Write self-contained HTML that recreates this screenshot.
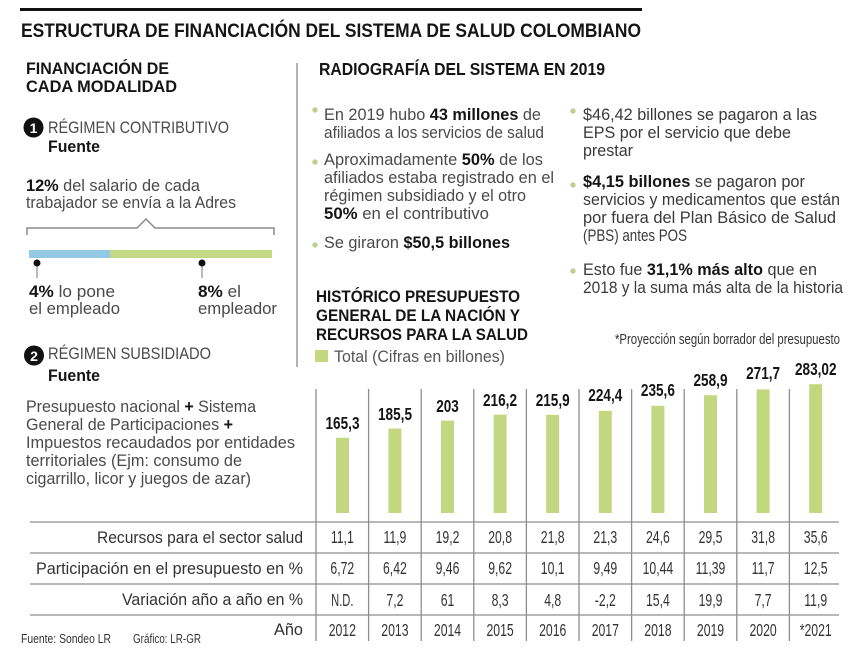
<!DOCTYPE html>
<html>
<head>
<meta charset="utf-8">
<style>
  html,body{margin:0;padding:0;background:#fff;}
  svg{display:block;}
  text{font-family:"Liberation Sans", sans-serif;}
  .b{font-weight:bold;fill:#151515;}
  .t{fill:#4a4a4a;}
  .r{fill:#3a3a3a;}
</style>
</head>
<body>
<svg width="863" height="657" viewBox="0 0 863 657" xmlns="http://www.w3.org/2000/svg">
  <rect x="0" y="0" width="863" height="657" fill="#ffffff"/>

  <!-- top rule + title -->
  <rect x="20" y="8" width="622" height="3" fill="#111"/>
  <text x="21" y="37" font-size="19.5" class="b" textLength="620" lengthAdjust="spacingAndGlyphs">ESTRUCTURA DE FINANCIACIÓN DEL SISTEMA DE SALUD COLOMBIANO</text>

  <!-- left column headers -->
  <text x="26" y="74" font-size="17" class="b" textLength="143" lengthAdjust="spacingAndGlyphs">FINANCIACIÓN DE</text>
  <text x="26" y="92" font-size="17" class="b" textLength="151" lengthAdjust="spacingAndGlyphs">CADA MODALIDAD</text>

  <!-- separator -->
  <line x1="297" y1="63" x2="297" y2="367" stroke="#9a9a9a" stroke-width="1.5"/>

  <!-- Régimen contributivo -->
  <circle cx="33.5" cy="127.5" r="10" fill="#111"/>
  <text x="33.5" y="133" font-size="14" font-weight="bold" fill="#fff" text-anchor="middle">1</text>
  <text x="48" y="133" font-size="17" class="t" textLength="181" lengthAdjust="spacingAndGlyphs">RÉGIMEN CONTRIBUTIVO</text>
  <text x="48" y="152" font-size="17" class="b" textLength="52" lengthAdjust="spacingAndGlyphs">Fuente</text>

  <text x="26" y="191" font-size="17" class="t" textLength="174" lengthAdjust="spacingAndGlyphs"><tspan class="b">12%</tspan> del salario de cada</text>
  <text x="26" y="208" font-size="17" class="t" textLength="210" lengthAdjust="spacingAndGlyphs">trabajador se envía a la Adres</text>

  <polyline points="27,235 27,228 137,228 146,219 155,228 274,228 274,235" fill="none" stroke="#8a8a8a" stroke-width="1.5"/>

  <rect x="29" y="250" width="81" height="8" fill="#93c9e5"/>
  <rect x="110" y="250" width="162" height="8" fill="#c5d883"/>

  <line x1="37" y1="263" x2="37" y2="278" stroke="#777" stroke-width="1"/>
  <circle cx="37" cy="263" r="3.5" fill="#111"/>
  <line x1="202" y1="263" x2="202" y2="278" stroke="#777" stroke-width="1"/>
  <circle cx="202" cy="263" r="3.5" fill="#111"/>

  <text x="29" y="297" font-size="17" class="t" textLength="86" lengthAdjust="spacingAndGlyphs"><tspan class="b">4%</tspan> lo pone</text>
  <text x="29" y="314" font-size="17" class="t" textLength="91" lengthAdjust="spacingAndGlyphs">el empleado</text>
  <text x="198" y="297" font-size="17" class="t" textLength="43" lengthAdjust="spacingAndGlyphs"><tspan class="b">8%</tspan> el</text>
  <text x="198" y="314" font-size="17" class="t" textLength="79" lengthAdjust="spacingAndGlyphs">empleador</text>

  <!-- Régimen subsidiado -->
  <circle cx="34" cy="355.5" r="10" fill="#111"/>
  <text x="34" y="361" font-size="14" font-weight="bold" fill="#fff" text-anchor="middle">2</text>
  <text x="48" y="359" font-size="17" class="t" textLength="163" lengthAdjust="spacingAndGlyphs">RÉGIMEN SUBSIDIADO</text>
  <text x="48" y="381" font-size="17" class="b" textLength="52" lengthAdjust="spacingAndGlyphs">Fuente</text>

  <text x="26" y="412" font-size="17" class="t" textLength="230" lengthAdjust="spacingAndGlyphs">Presupuesto nacional <tspan class="b">+</tspan> Sistema</text>
  <text x="26" y="430" font-size="17" class="t" textLength="207" lengthAdjust="spacingAndGlyphs">General de Participaciones <tspan class="b">+</tspan></text>
  <text x="26" y="448" font-size="17" class="t" textLength="269" lengthAdjust="spacingAndGlyphs">Impuestos recaudados por entidades</text>
  <text x="26" y="466" font-size="17" class="t" textLength="216" lengthAdjust="spacingAndGlyphs">territoriales (Ejm: consumo de</text>
  <text x="26" y="484" font-size="17" class="t" textLength="225" lengthAdjust="spacingAndGlyphs">cigarrillo, licor y juegos de azar)</text>

  <!-- Radiografía -->
  <text x="319" y="75" font-size="17.5" class="b" textLength="286" lengthAdjust="spacingAndGlyphs">RADIOGRAFÍA DEL SISTEMA EN 2019</text>

  <g fill="#b9d38e">
    <circle cx="315" cy="110" r="2.7"/>
    <circle cx="315" cy="162" r="2.7"/>
    <circle cx="315" cy="245" r="2.7"/>
    <circle cx="573" cy="111" r="2.7"/>
    <circle cx="573" cy="185" r="2.7"/>
    <circle cx="573" cy="271" r="2.7"/>
  </g>

  <text x="324" y="120" font-size="17" class="t" textLength="217" lengthAdjust="spacingAndGlyphs">En 2019 hubo <tspan class="b">43 millones</tspan> de</text>
  <text x="324" y="138" font-size="17" class="t" textLength="220" lengthAdjust="spacingAndGlyphs">afiliados a los servicios de salud</text>
  <text x="324" y="165" font-size="17" class="t" textLength="219" lengthAdjust="spacingAndGlyphs">Aproximadamente <tspan class="b">50%</tspan> de los</text>
  <text x="324" y="183" font-size="17" class="t" textLength="230" lengthAdjust="spacingAndGlyphs">afiliados estaba registrado en el</text>
  <text x="324" y="201" font-size="17" class="t" textLength="202" lengthAdjust="spacingAndGlyphs">régimen subsidiado y el otro</text>
  <text x="324" y="219" font-size="17" class="t" textLength="165" lengthAdjust="spacingAndGlyphs"><tspan class="b">50%</tspan> en el contributivo</text>
  <text x="324" y="248" font-size="17" class="t" textLength="186" lengthAdjust="spacingAndGlyphs">Se giraron <tspan class="b">$50,5 billones</tspan></text>

  <text x="583" y="120" font-size="17" class="r" textLength="234" lengthAdjust="spacingAndGlyphs">$46,42 billones se pagaron a las</text>
  <text x="583" y="138" font-size="17" class="r" textLength="208" lengthAdjust="spacingAndGlyphs">EPS por el servicio que debe</text>
  <text x="583" y="156" font-size="17" class="r" textLength="50" lengthAdjust="spacingAndGlyphs">prestar</text>
  <text x="583" y="187" font-size="17" class="r" textLength="222" lengthAdjust="spacingAndGlyphs"><tspan class="b">$4,15 billones</tspan> se pagaron por</text>
  <text x="583" y="205" font-size="17" class="r" textLength="257" lengthAdjust="spacingAndGlyphs">servicios y medicamentos que están</text>
  <text x="583" y="223" font-size="17" class="r" textLength="253" lengthAdjust="spacingAndGlyphs">por fuera del Plan Básico de Salud</text>
  <text x="583" y="241" font-size="17" class="r" textLength="104" lengthAdjust="spacingAndGlyphs">(PBS) antes POS</text>
  <text x="583" y="275" font-size="17" class="r" textLength="234" lengthAdjust="spacingAndGlyphs">Esto fue <tspan class="b">31,1% más alto</tspan> que en</text>
  <text x="583" y="293" font-size="17" class="r" textLength="260" lengthAdjust="spacingAndGlyphs">2018 y la suma más alta de la historia</text>

  <!-- Histórico title -->
  <text x="316" y="302" font-size="17" class="b" textLength="204" lengthAdjust="spacingAndGlyphs">HISTÓRICO PRESUPUESTO</text>
  <text x="316" y="321" font-size="17" class="b" textLength="204" lengthAdjust="spacingAndGlyphs">GENERAL DE LA NACIÓN Y</text>
  <text x="316" y="340" font-size="17" class="b" textLength="212" lengthAdjust="spacingAndGlyphs">RECURSOS PARA LA SALUD</text>
  <rect x="315" y="350" width="13" height="12" fill="#c2d77f"/>
  <text x="334" y="362" font-size="16.5" fill="#555" textLength="171" lengthAdjust="spacingAndGlyphs">Total (Cifras en billones)</text>

  <text x="615" y="344" font-size="15" fill="#333" textLength="225" lengthAdjust="spacingAndGlyphs">*Proyección según borrador del presupuesto</text>

  <!-- grid -->
  <g stroke="#8e8e8e" stroke-width="1.3">
    <line x1="316" y1="389" x2="316" y2="641"/>
    <line x1="368.6" y1="389" x2="368.6" y2="641"/>
    <line x1="421.2" y1="389" x2="421.2" y2="641"/>
    <line x1="473.8" y1="389" x2="473.8" y2="641"/>
    <line x1="526.4" y1="389" x2="526.4" y2="641"/>
    <line x1="579" y1="389" x2="579" y2="641"/>
    <line x1="631.6" y1="389" x2="631.6" y2="641"/>
    <line x1="684.2" y1="389" x2="684.2" y2="641"/>
    <line x1="736.8" y1="389" x2="736.8" y2="641"/>
    <line x1="789.4" y1="389" x2="789.4" y2="641"/>
    <line x1="30" y1="522" x2="839" y2="522"/>
    <line x1="30" y1="553" x2="839" y2="553"/>
    <line x1="30" y1="584" x2="839" y2="584"/>
    <line x1="30" y1="615" x2="839" y2="615"/>
  </g>

  <!-- bars -->
  <g fill="#c2d77f">
    <rect x="336" y="437.8" width="13" height="75.2"/>
    <rect x="388.4" y="428.6" width="13" height="84.4"/>
    <rect x="441" y="420.6" width="13" height="92.4"/>
    <rect x="493.6" y="414.6" width="13" height="98.4"/>
    <rect x="546.2" y="414.8" width="13" height="98.2"/>
    <rect x="598.8" y="410.9" width="13" height="102.1"/>
    <rect x="651.4" y="405.8" width="13" height="107.2"/>
    <rect x="704" y="395.2" width="13" height="117.8"/>
    <rect x="756.6" y="389.4" width="13" height="123.6"/>
    <rect x="809.2" y="384.2" width="13" height="128.8"/>
  </g>

  <!-- bar labels -->
  <g font-size="17.5" font-weight="bold" fill="#151515">
    <text x="325.5" y="429" textLength="34" lengthAdjust="spacingAndGlyphs">165,3</text>
    <text x="378" y="420" textLength="34" lengthAdjust="spacingAndGlyphs">185,5</text>
    <text x="436.3" y="412" textLength="22.5" lengthAdjust="spacingAndGlyphs">203</text>
    <text x="483" y="406" textLength="34" lengthAdjust="spacingAndGlyphs">216,2</text>
    <text x="535.7" y="406" textLength="34" lengthAdjust="spacingAndGlyphs">215,9</text>
    <text x="588.3" y="401" textLength="34" lengthAdjust="spacingAndGlyphs">224,4</text>
    <text x="640.9" y="396" textLength="34" lengthAdjust="spacingAndGlyphs">235,6</text>
    <text x="693.5" y="386" textLength="34" lengthAdjust="spacingAndGlyphs">258,9</text>
    <text x="746.1" y="379" textLength="34" lengthAdjust="spacingAndGlyphs">271,7</text>
    <text x="795" y="375" textLength="41.5" lengthAdjust="spacingAndGlyphs">283,02</text>
  </g>

  <!-- row labels -->
  <g font-size="17" fill="#333">
    <text x="97" y="543" textLength="206" lengthAdjust="spacingAndGlyphs">Recursos para el sector salud</text>
    <text x="36" y="574" textLength="267" lengthAdjust="spacingAndGlyphs">Participación en el presupuesto en %</text>
    <text x="122" y="605" textLength="181" lengthAdjust="spacingAndGlyphs">Variación año a año en %</text>
    <text x="274" y="635" textLength="29" lengthAdjust="spacingAndGlyphs">Año</text>
  </g>

  <!-- table values -->
  <g font-size="18" fill="#333" text-anchor="middle">
    <text transform="translate(342.3,543) scale(0.68,1)">11,1</text>
    <text transform="translate(394.9,543) scale(0.68,1)">11,9</text>
    <text transform="translate(447.5,543) scale(0.68,1)">19,2</text>
    <text transform="translate(500.1,543) scale(0.68,1)">20,8</text>
    <text transform="translate(552.7,543) scale(0.68,1)">21,8</text>
    <text transform="translate(605.3,543) scale(0.68,1)">21,3</text>
    <text transform="translate(657.9,543) scale(0.68,1)">24,6</text>
    <text transform="translate(710.5,543) scale(0.68,1)">29,5</text>
    <text transform="translate(763.1,543) scale(0.68,1)">31,8</text>
    <text transform="translate(815.7,543) scale(0.68,1)">35,6</text>

    <text transform="translate(342.3,574) scale(0.68,1)">6,72</text>
    <text transform="translate(394.9,574) scale(0.68,1)">6,42</text>
    <text transform="translate(447.5,574) scale(0.68,1)">9,46</text>
    <text transform="translate(500.1,574) scale(0.68,1)">9,62</text>
    <text transform="translate(552.7,574) scale(0.68,1)">10,1</text>
    <text transform="translate(605.3,574) scale(0.68,1)">9,49</text>
    <text transform="translate(657.9,574) scale(0.68,1)">10,44</text>
    <text transform="translate(710.5,574) scale(0.68,1)">11,39</text>
    <text transform="translate(763.1,574) scale(0.68,1)">11,7</text>
    <text transform="translate(815.7,574) scale(0.68,1)">12,5</text>

    <text transform="translate(342.3,606) scale(0.62,1)">N.D.</text>
    <text transform="translate(394.9,606) scale(0.68,1)">7,2</text>
    <text transform="translate(447.5,606) scale(0.68,1)">61</text>
    <text transform="translate(500.1,606) scale(0.68,1)">8,3</text>
    <text transform="translate(552.7,606) scale(0.68,1)">4,8</text>
    <text transform="translate(605.3,606) scale(0.68,1)">-2,2</text>
    <text transform="translate(657.9,606) scale(0.68,1)">15,4</text>
    <text transform="translate(710.5,606) scale(0.68,1)">19,9</text>
    <text transform="translate(763.1,606) scale(0.68,1)">7,7</text>
    <text transform="translate(815.7,606) scale(0.68,1)">11,9</text>

    <text transform="translate(342.3,636) scale(0.68,1)">2012</text>
    <text transform="translate(394.9,636) scale(0.68,1)">2013</text>
    <text transform="translate(447.5,636) scale(0.68,1)">2014</text>
    <text transform="translate(500.1,636) scale(0.68,1)">2015</text>
    <text transform="translate(552.7,636) scale(0.68,1)">2016</text>
    <text transform="translate(605.3,636) scale(0.68,1)">2017</text>
    <text transform="translate(657.9,636) scale(0.68,1)">2018</text>
    <text transform="translate(710.5,636) scale(0.68,1)">2019</text>
    <text transform="translate(763.1,636) scale(0.68,1)">2020</text>
    <text transform="translate(815.7,636) scale(0.68,1)">*2021</text>
  </g>

  <!-- footer -->
  <text x="21" y="643" font-size="12.5" fill="#333" textLength="90" lengthAdjust="spacingAndGlyphs">Fuente: Sondeo LR</text>
  <text x="133" y="643" font-size="12.5" fill="#333" textLength="68" lengthAdjust="spacingAndGlyphs">Gráfico: LR-GR</text>
</svg>
</body>
</html>
